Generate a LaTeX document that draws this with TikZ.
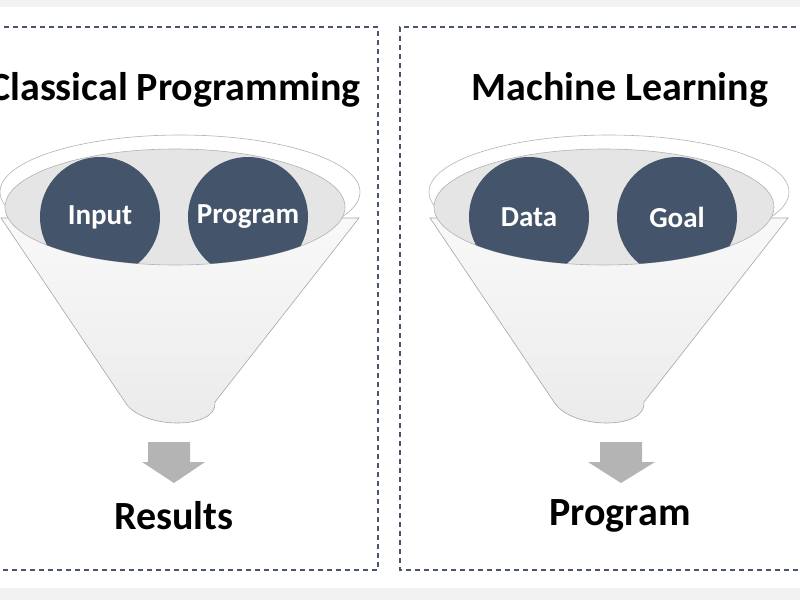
\documentclass[tikz,border=0pt]{standalone}
\usepackage{fontspec}
\setmainfont{Carlito}
\definecolor{navy}{HTML}{44546A}
\definecolor{dashc}{HTML}{4A5670}
\definecolor{arr}{HTML}{B4B4B4}
\tikzset{
 box/.style={draw=dashc,dashed,line width=1.2pt,dash pattern=on 5pt off 4pt},
 ball/.style={circle,fill=navy,minimum size=120pt},
 balltext/.style={text=white,font=\bfseries\fontsize{29pt}{29pt}\selectfont},
 title/.style={font=\bfseries\fontsize{40pt}{40pt}\selectfont},
 rim/.style={draw=gray!60,line width=0.6pt,fill=white},
 inner/.style={draw=gray!60,line width=0.6pt,fill=gray!20},
 cone/.style={draw=gray!70,line width=0.6pt,top color=gray!5,bottom color=gray!16},
 dnarrow/.style={fill=arr}
}
\newcommand{\funnel}[3]{% cx, ball1, ball2
 \begin{scope}[shift={(#1,0)}]
 \path[cone] (-179,218) -- (-55,402) .. controls (-38,430) and (38,430) .. (35,402) -- (179,218) -- cycle;
 \path[rim] (0,192) ellipse [x radius=180, y radius=57];
 \path[inner] (-5,207) ellipse [x radius=170, y radius=58];
 \begin{scope}
 \clip (-5,207) ellipse [x radius=170, y radius=58];
 \node[ball] (b1#1) at (-80,217) {};
 \node[ball] (b2#1) at (68,217) {};
 \end{scope}
 \node[balltext] at (b1#1) {#2};
 \node[balltext] at (b2#1) {#3};
 \end{scope}}
\begin{document}
\begin{tikzpicture}[x=1pt,y=-1pt]
\useasboundingbox (0,0) rectangle (800,600);
\fill[gray!10] (0,0) rectangle (800,7);
\fill[gray!10] (0,588) rectangle (800,600);
\draw[box] (-5,27) -- (378,27) -- (378,570) -- (-5,570);
\draw[box] (805,27) -- (400,27) -- (400,570) -- (805,570);
\node[title] (t1) at (175,90) {Classical Programming};
\node[title] (t2) at (620,90) {Machine Learning};
\funnel{180}{Input}{Program}
\funnel{609}{Data}{Goal}
\path[dnarrow] (148,442) -- (190,442) -- (190,462) -- (205,462) -- (174,483) -- (142,462) -- (148,462) -- cycle;
\path[dnarrow] (600,442) -- (642,442) -- (642,462) -- (655,462) -- (621,483) -- (588,462) -- (600,462) -- cycle;
\node[title] (r1) at (174,516) {Results};
\node[title] (r2) at (620,516) {Program};
\end{tikzpicture}
\end{document}
